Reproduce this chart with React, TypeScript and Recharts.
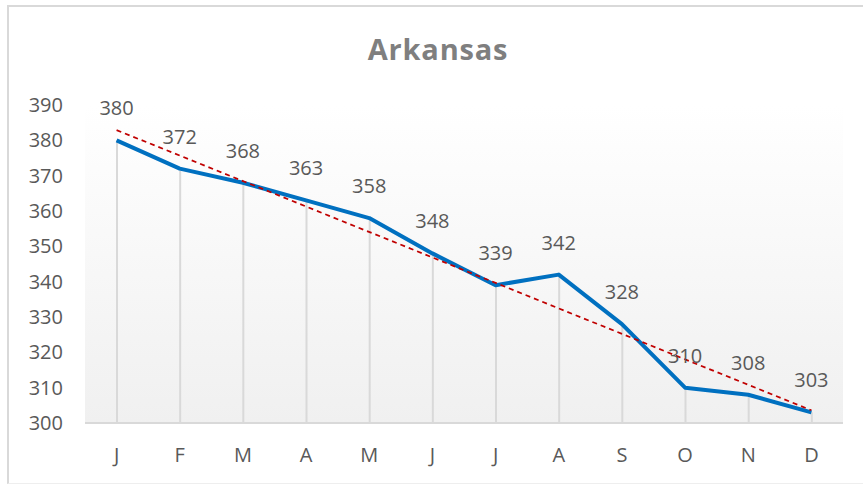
import React from "react";
import {
  ComposedChart,
  Line,
  Bar,
  XAxis,
  YAxis,
  CartesianGrid,
  LabelList,
} from "recharts";

const months = ["J", "F", "M", "A", "M", "J", "J", "A", "S", "O", "N", "D"];
const values = [380, 372, 368, 363, 358, 348, 339, 342, 328, 310, 308, 303];
// linear trendline end points
const trendStart = 382.9;
const trendEnd = 303.6;
const yTicks = [300, 310, 320, 330, 340, 350, 360, 370, 380, 390];

const data = months.map((m, i) => ({
  month: m,
  value: values[i],
  trend: i === 0 ? trendStart : i === months.length - 1 ? trendEnd : null,
}));

const FONT = "'Open Sans', sans-serif";

export default function App() {
  return (
    <div style={{ position: "absolute", left: 0, top: 0, width: 863, height: 485, overflow: "hidden", background: "#fff" }}>
      <div
        style={{
          position: "absolute",
          left: 7,
          top: 5,
          width: 870,
          height: 476,
          border: "2px solid #d9d9d9",
          borderBottomWidth: 1,
          borderBottomColor: "#eeeeee",
        }}
      >
        <ComposedChart
          width={866}
          height={476}
          data={data}
          margin={{ top: 98, right: 32, bottom: 0, left: 16 }}
        >
          <defs>
            <linearGradient id="plotBg" x1="0" y1="0" x2="0" y2="1">
              <stop offset="0%" stopColor="#ffffff" />
              <stop offset="100%" stopColor="#f0f0f0" />
            </linearGradient>
          </defs>
          <CartesianGrid horizontal={false} vertical={false} fill="url(#plotBg)" />
          <XAxis
            dataKey="month"
            allowDuplicatedCategory
            axisLine={{ stroke: "#d9d9d9", strokeWidth: 2 }}
            tickLine={false}
            tickSize={0}
            tickMargin={25}
            tick={{ fill: "#595959", fontSize: 20, fontFamily: FONT }}
            height={60}
          />
          <YAxis
            domain={[300, 390]}
            ticks={yTicks}
            interval={0}
            axisLine={false}
            tickLine={false}
            tickSize={0}
            tickMargin={22}
            width={60}
            tick={{ fill: "#595959", fontSize: 20, fontFamily: FONT }}
          />
          <Bar dataKey="value" barSize={2} fill="#d9d9d9" isAnimationActive={false} />
          <Line
            dataKey="value"
            type="linear"
            stroke="#0070c0"
            strokeWidth={4}
            strokeLinejoin="round"
            dot={false}
            activeDot={false}
            isAnimationActive={false}
          >
            <LabelList
              dataKey="value"
              position="top"
              offset={25}
              fill="#595959"
              fontSize={20}
              fontFamily={FONT}
            />
          </Line>
          <Line
            dataKey="trend"
            type="linear"
            connectNulls
            stroke="#c00000"
            strokeWidth={1.75}
            strokeDasharray="5 4"
            dot={false}
            activeDot={false}
            isAnimationActive={false}
          />
        </ComposedChart>
      </div>
      <div
        style={{
          position: "absolute",
          left: 0,
          top: 30,
          width: 876,
          textAlign: "center",
          fontFamily: FONT,
          fontWeight: 700,
          fontSize: 29,
          lineHeight: "38px",
          color: "#7f7f7f",
          letterSpacing: 0.8,
        }}
      >
        Arkansas
      </div>
    </div>
  );
}
